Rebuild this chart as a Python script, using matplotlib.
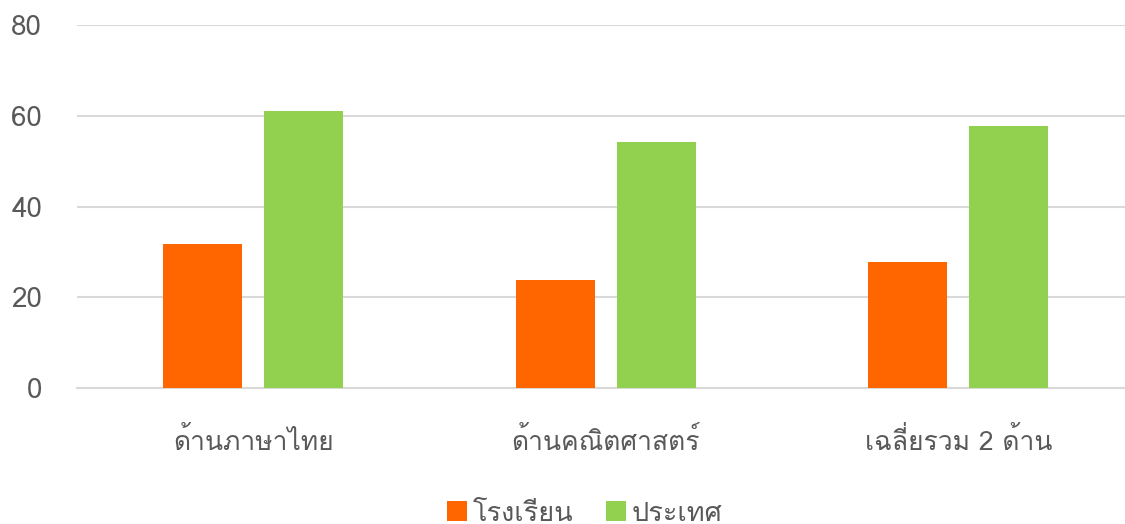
import matplotlib
matplotlib.use("Agg")
import numpy as np
import matplotlib.pyplot as plt
from matplotlib import font_manager

categories = ["ด้านภาษาไทย", "ด้านคณิตศาสตร์", "เฉลี่ยรวม 2 ด้าน"]
school = [31.7, 23.9, 27.8]
country = [61.0, 54.2, 57.7]
series_names = ["โรงเรียน", "ประเทศ"]
yticks = [0, 20, 40, 60, 80]

# look for any installed font that can draw Thai
thai = []
for f in font_manager.fontManager.ttflist:
    n = f.name
    if "Thai" in n or n in ("Loma", "Garuda", "Kinnari", "Norasi", "Sawasdee", "Umpush", "Waree", "Tlwg Typo", "Laksaman", "TH Sarabun New", "Tahoma"):
        if n not in thai:
            thai.append(n)
plt.rcParams['font.family'] = thai + ['DejaVu Sans']

grey = '#595959'
fig = plt.figure(figsize=(11.25, 5.24), dpi=100)
ax = fig.add_axes([0.0684, 0.2595, 0.94, 0.6925])

x = np.arange(len(categories))
w = 0.224
off = 0.143
ax.bar(x - off, school, w, color='#ff6600', label=series_names[0], zorder=3)
ax.bar(x + off, country, w, color='#92d050', label=series_names[1], zorder=3)

ax.set_xlim(-0.5, 2.5)
ax.set_ylim(0, 80)
ax.set_yticks(yticks)
ax.yaxis.grid(True, color='#d9d9d9', linewidth=1.5, zorder=0)
for s in ['top', 'right', 'left']:
    ax.spines[s].set_visible(False)
ax.spines['bottom'].set_color('#d9d9d9')
ax.spines['bottom'].set_linewidth(1.5)
ax.tick_params(axis='both', length=0, colors=grey)
ax.tick_params(axis='y', pad=25, labelsize=20)
ax.tick_params(axis='x', pad=28, labelsize=19)
ax.set_xticks(x)
ax.set_xticklabels(categories)

ax.legend(loc='upper center', bbox_to_anchor=(0.48, -0.245), ncol=2, frameon=False,
          fontsize=19.5, labelcolor=grey, handlelength=0.75, handleheight=0.75,
          handletextpad=0.2, columnspacing=1.2)

fig.savefig('out.png', dpi=100)
